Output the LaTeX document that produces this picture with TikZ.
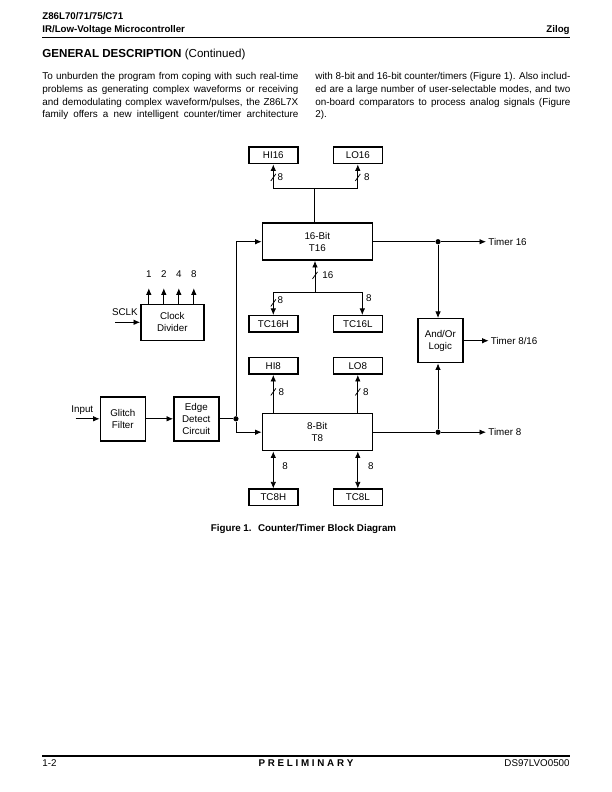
\documentclass[tikz,border=0pt]{standalone}
\usepackage{fontspec}
\setmainfont{Liberation Sans}
\usetikzlibrary{arrows,arrows.meta,positioning}

\newcommand{\lblsize}{\fontsize{9.8}{11.7}\selectfont}
\newcommand{\bodysize}{\fontsize{9.9}{12.7}\selectfont}
\newcommand{\hdrsize}{\fontsize{9.7}{11}\selectfont\bfseries}
\newcommand{\busslash}[1]{\draw (#1) ++(-2.5,-3.5) -- ++(5,7);}

\begin{document}
\begin{tikzpicture}[x=1pt, y=1pt, >={Latex[length=6.5pt,width=5.5pt]}, line width=0.75pt,
  every node/.style={font=\lblsize},
  reg/.style={draw, line width=1.5pt, minimum width=49pt, minimum height=16.5pt, inner sep=0pt},
  tmr/.style={draw, line width=1.5pt, minimum width=110pt, minimum height=37pt, align=center, inner sep=0pt},
  blk/.style={draw, line width=1.5pt, minimum width=45pt, minimum height=44pt, align=center, inner sep=0pt},
  lbl/.style={inner sep=2pt},
  txt/.style={inner sep=0pt},
  dot/.style={circle, fill, inner sep=0pt, minimum size=5.2pt}]
  \useasboundingbox (0,0) rectangle (612,-792);

  % page head
  \node[txt, anchor=base west, font=\hdrsize] (part) at (42,-20) {Z86L70/71/75/C71};
  \node[txt, anchor=base west, font=\hdrsize] (title) at (42,-32.5) {IR/Low-Voltage Microcontroller};
  \node[txt, anchor=base east, font=\hdrsize] (zilog) at (570,-32.5) {Zilog};
  \draw[line width=1.8pt] (42,-37.5) -- (570,-37.5);
  \node[txt, anchor=base west, font=\fontsize{11.6}{13}\selectfont] (sect) at (42,-57)
    {\textbf{GENERAL DESCRIPTION} (Continued)};

  \node[txt, anchor=north west, text width=256pt, align=justify, font=\bodysize] (colL) at (42,-72.3)
    {\parfillskip=0pt To unburden the program from coping with such real-time\linebreak
     problems as generating complex waveforms or receiving\linebreak
     and demodulating complex waveform/pulses, the Z86L7X\linebreak
     family offers a new intelligent counter/timer architecture\par};
  \node[txt, anchor=north west, text width=255pt, align=justify, font=\bodysize] (colR) at (315,-72.3)
    {with 8-bit and 16-bit counter/timers (Figure 1). Also includ-\linebreak
     ed are a large number of user-selectable modes, and two\linebreak
     on-board comparators to process analog signals (Figure\linebreak
     2).};

  % timers and registers
  \node[tmr] (t16) at (317.3,-241.7) {16-Bit\\T16};
  \node[tmr] (t8) [below=152pt of t16] {8-Bit\\T8};
  \node[reg] (hi16) [above=58pt of t16, xshift=-44pt] {HI16};
  \node[reg] (lo16) [right=34pt of hi16] {LO16};
  \node[reg] (tc16h) [below=54pt of t16, xshift=-44pt] {TC16H};
  \node[reg] (tc16l) [right=34pt of tc16h] {TC16L};
  \node[reg] (hi8) [above=38pt of t8, xshift=-44pt] {HI8};
  \node[reg] (lo8) [right=34pt of hi8] {LO8};
  \node[reg] (tc8h) [below=37pt of t8, xshift=-44pt] {TC8H};
  \node[reg] (tc8l) [right=34pt of tc8h] {TC8L};
  \node[blk] (andor) [right=44pt of t16, yshift=-99pt] {And/Or\\Logic};
  \node[blk] (edge) [left=42pt of t8, yshift=13.4pt] {Edge\\Detect\\Circuit};
  \node[blk] (glitch) [left=27pt of edge] {Glitch\\Filter};
  \node[blk, minimum width=63pt, minimum height=36pt] (clk) [above=55pt of edge, xshift=-24pt] {Clock\\Divider};

  % T16 upper bus
  \coordinate[above=34.5pt of t16.north, xshift=-3.3pt] (b16);
  \draw (t16.north -| b16) -- (b16);
  \draw[->] (b16) -| (hi16);
  \draw[->] (b16) -| (lo16);
  \coordinate[below=13pt of hi16.south] (s1);
  \coordinate[below=13pt of lo16.south] (s2);
  \busslash{s1} \busslash{s2}
  \node[lbl, right=2pt of s1] (w1) {8};
  \node[lbl, right=4pt of s2] (w2) {8};

  % T16 lower bus
  \coordinate[below=31.4pt of t16.south, xshift=-2.3pt] (c16);
  \draw[->] (c16) -- (t16.south -| c16);
  \draw[->] (c16) -| (tc16h);
  \draw[->] (c16) -| ([xshift=4.5pt]tc16l.north);
  \coordinate[above=17pt of c16] (s3);
  \coordinate[above=12pt of tc16h.north] (s4);
  \busslash{s3} \busslash{s4}
  \node[lbl, right=5pt of s3] (w3) {16};
  \node[lbl, right=2pt of s4, yshift=3pt] (w4) {8};
  \node[lbl, above=11pt of tc16l.north, xshift=11pt] (w5) {8};

  % T8 buses
  \draw[->] (t8.north -| hi8) -- (hi8);
  \draw[->] (t8.north -| lo8) -- (lo8);
  \coordinate[below=17pt of hi8.south] (s6);
  \coordinate[below=17pt of lo8.south] (s7);
  \busslash{s6} \busslash{s7}
  \node[lbl, right=3pt of s6] (w6) {8};
  \node[lbl, right=3pt of s7] (w7) {8};
  \draw[<->] (t8.south -| tc8h) -- (tc8h);
  \draw[<->] (t8.south -| tc8l) -- (tc8l);
  \node[lbl, above=16pt of tc8h.north, xshift=11.7pt] (w8) {8};
  \node[lbl, above=16pt of tc8l.north, xshift=13pt] (w9) {8};

  % outputs
  \node[dot] (d16) [right=62pt of t16.east] {};
  \node[dot] (d8) [right=62pt of t8.east] {};
  \draw (t16) -- (d16);
  \draw (t8) -- (d8);
  \node[lbl] (tm16) [right=45pt of d16] {Timer 16};
  \node[lbl] (tm8) [right=45pt of d8] {Timer 8};
  \node[lbl] (tm816) [right=25pt of andor] {Timer 8/16};
  \draw[->] (d16) -- (tm16);
  \draw[->] (d8) -- (tm8);
  \draw[->] (d16) -- (d16 |- andor.north);
  \draw[->] (d8) -- (d8 |- andor.south);
  \draw[->] (andor) -- (tm816);

  % input path
  \node[dot] (dsp) [right=13.4pt of edge.east] {};
  \coordinate[left=24pt of glitch.west] (inp);
  \node[lbl, left=4pt of glitch.north west, yshift=-14pt] (inlbl) {Input};
  \draw[->] (inp) -- (glitch);
  \draw[->] (glitch) -- (edge);
  \draw (edge) -- (dsp);
  \draw[->] (dsp) |- (t16);
  \draw[->] (dsp) |- (t8);

  % clock divider
  \coordinate[left=25pt of clk.west] (sclkin);
  \draw[->] (sclkin) -- (clk);
  \node[lbl, left=0pt of clk.north west, yshift=-9pt] (sclk) {SCLK};
  \foreach \n/\dx in {1/-23.5, 2/-8.5, 4/6.5, 8/21.5} {
    \node[lbl] (q\n) [above=23.8pt of clk.north, xshift=\dx pt] {\n};
    \draw[->] (clk.north -| q\n) -- ([yshift=-8.5pt]q\n.south);
  }

  % caption and page foot
  \node[txt, font=\lblsize\bfseries] (cap) at (303.5,-529) {Figure 1.~ Counter/Timer Block Diagram};
  \draw[line width=2pt] (42,-756) -- (570,-756);
  \node[txt, anchor=base west] (pg) at (42,-766.5) {1-2};
  \node[txt, anchor=base, font=\lblsize\bfseries] (prelim) at (306,-766.5) {P R E L I M I N A R Y};
  \node[txt, anchor=base east] (doc) at (570,-766.5) {DS97LVO0500};
\end{tikzpicture}
\end{document}
